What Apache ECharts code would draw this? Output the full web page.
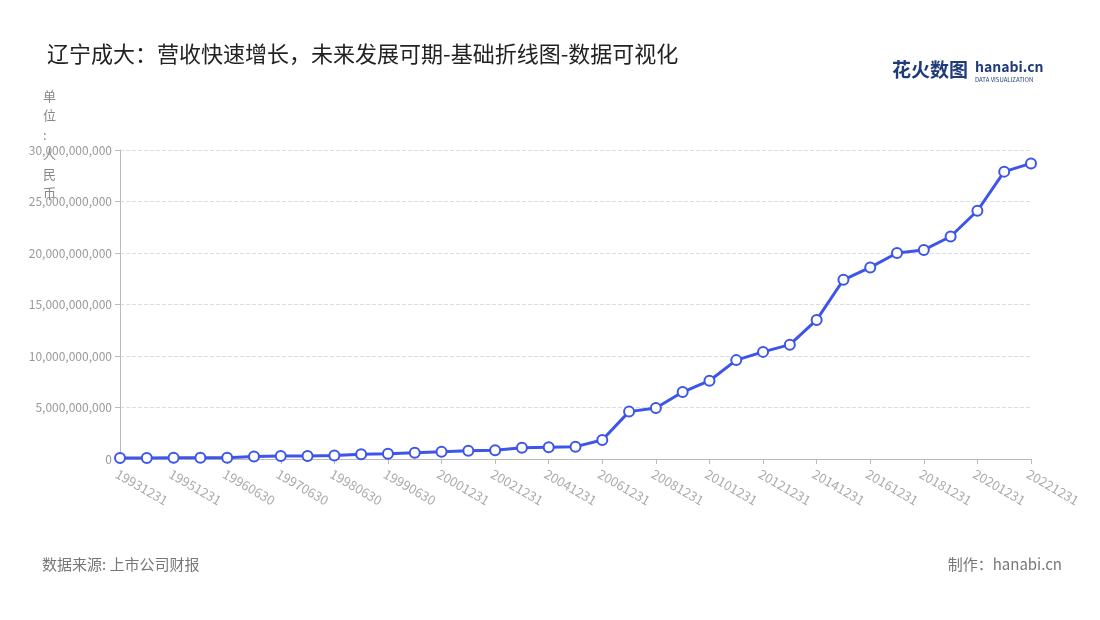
<!DOCTYPE html>
<html><head><meta charset="utf-8">
<script src="https://cdn.jsdelivr.net/npm/echarts@6/dist/echarts.min.js"></script>
<style>html,body{margin:0;padding:0;background:#fff}#c{width:1100px;height:620px}</style>
</head><body><div id="c"></div>
<script>
const categories = ['19931231','19941231','19951231','19960331','19960630','19961231','19970630','19971231','19980630','19981231','19990630','19991231',
'20001231','20011231','20021231','20031231','20041231','20051231','20061231','20071231','20081231','20091231','20101231','20111231','20121231','20131231','20141231','20151231','20161231','20171231','20181231','20191231','20201231','20211231','20221231'];
const revenue = [0.1,0.1,0.12,0.13,0.12,0.25,0.3,0.3,0.35,0.45,0.5,0.6,0.7,0.8,0.85,1.1,1.15,1.2,1.85,4.6,4.95,6.5,7.6,9.6,10.4,11.1,13.5,17.4,18.6,20.0,20.3,21.6,24.1,27.9,28.7].map(v=>Math.round(v*1e9));
const chart = echarts.init(document.getElementById('c'));
const font = '"Noto Sans CJK SC","Noto Sans",sans-serif';
chart.setOption({
  animation:false,
  textStyle:{fontFamily:font},
  title:{text:'辽宁成大：营收快速增长，未来发展可期-基础折线图-数据可视化',left:42,top:38,textStyle:{fontSize:22,fontWeight:'normal',color:'#222',fontFamily:font}},
  graphic:[
    {type:'text',left:43,top:86,style:{text:'单\n位\n:\n人\n民\n币',fill:'#888',font:'13px '+font,lineHeight:19.5}},
    {type:'text',left:42,top:557,style:{text:'数据来源: 上市公司财报',fill:'#777',font:'15px '+font}},
    {type:'text',right:38,top:557,style:{text:'制作：hanabi.cn',fill:'#777',font:'15px '+font}},
    {type:'text',left:892,top:60,style:{text:'花火数图',fill:'#1f3b7a',font:'bold 19px '+font}},
    {type:'text',left:975,top:60,style:{text:'hanabi.cn',fill:'#1f3b7a',font:'bold 14px '+font}},
    {type:'text',left:975,top:77,style:{text:'DATA VISUALIZATION',fill:'#1f3b7a',font:'6px '+font}}
  ],
  grid:{left:120,right:69,top:150,bottom:161},
  xAxis:{type:'category',data:categories,boundaryGap:false,
    axisLine:{lineStyle:{color:'#bbb'}},axisTick:{interval:1,lineStyle:{color:'#bbb'}},
    axisLabel:{interval:1,rotate:-30,color:'#aaa',fontSize:13,align:'left',verticalAlign:'top'}},
  yAxis:{type:'value',min:0,max:30000000000,interval:5000000000,
    axisLine:{show:true,lineStyle:{color:'#bbb'}},axisTick:{show:true,lineStyle:{color:'#bbb'}},
    splitLine:{lineStyle:{type:'dashed',color:'#ddd'}},
    axisLabel:{color:'#999',fontSize:12,formatter:v=>v.toLocaleString('en-US')}},
  series:[{type:'line',data:revenue,symbol:'circle',symbolSize:10,
    lineStyle:{color:'#3d55e8',width:3},
    itemStyle:{color:'#fff',borderColor:'#3d55e8',borderWidth:2}}]
});
</script></body></html>
